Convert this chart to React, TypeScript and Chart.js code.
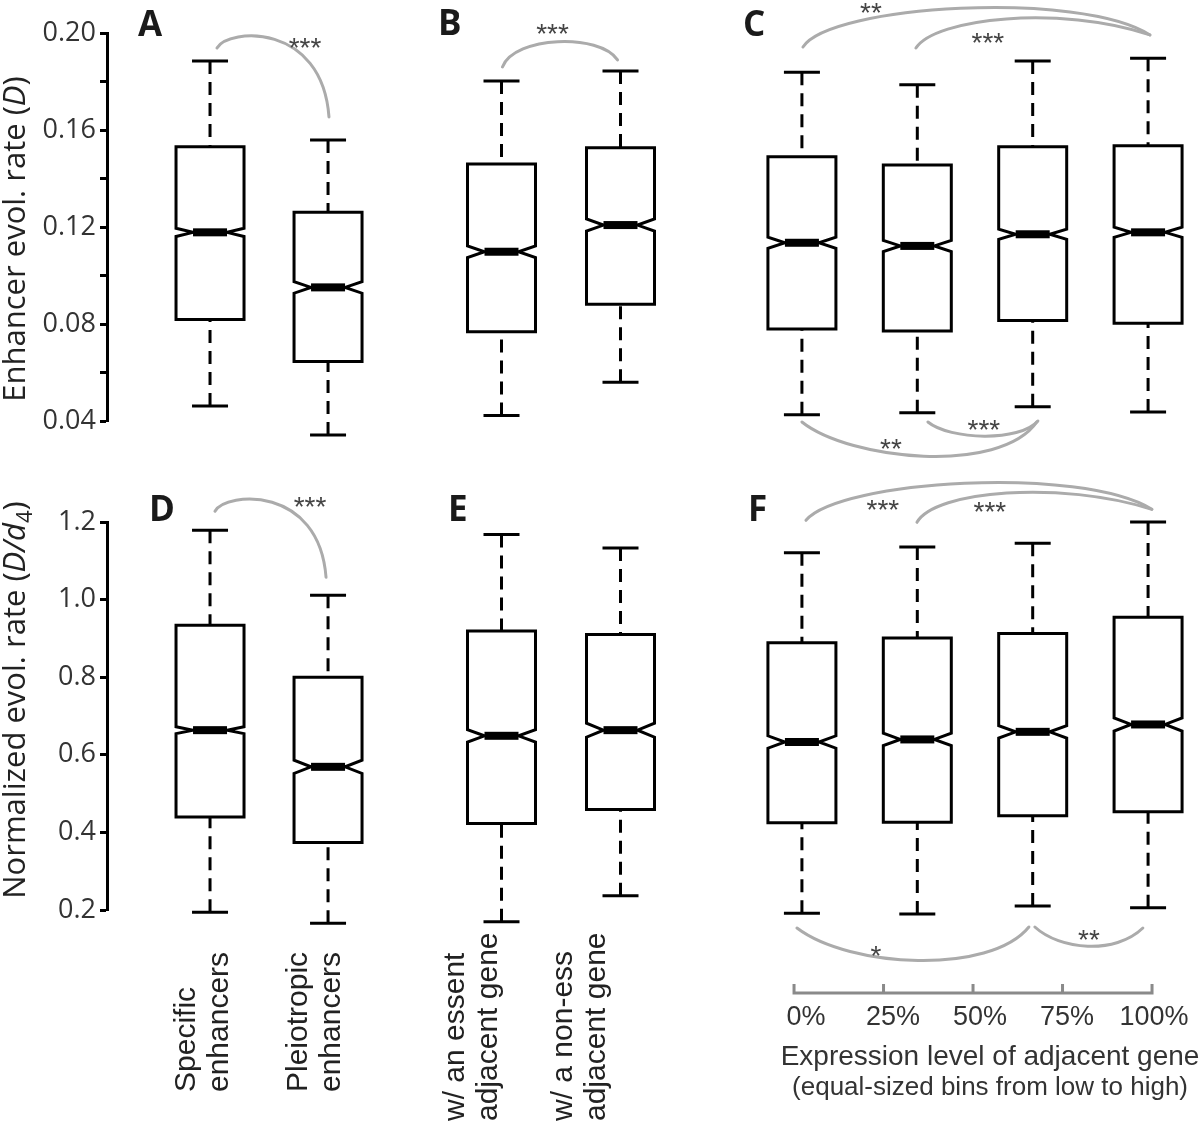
import React, { useEffect, useRef } from 'react';
import { Chart, registerables } from 'chart.js';

Chart.register(...registerables);

// ---------------- data ----------------
const TOP_TICK_VALUES = [0.04, 0.06, 0.08, 0.1, 0.12, 0.14, 0.16, 0.18, 0.2];
const TOP_TICK_LABELS = ['0.04', '', '0.08', '', '0.12', '', '0.16', '', '0.20'];
const BOTTOM_TICK_VALUES = [0.2, 0.4, 0.6, 0.8, 1.0, 1.2];
const BOTTOM_TICK_LABELS = ['0.2', '0.4', '0.6', '0.8', '1.0', '1.2'];

const ENHANCER_GROUPS = [['Specific', 'enhancers'], ['Pleiotropic', 'enhancers']];
const ESSENTIAL_GROUPS = [['w/ an essent', 'adjacent gene'], ['w/ a non-ess', 'adjacent gene']];
const EXPRESSION_BIN_VALUES = [0, 25, 50, 75, 100];
const EXPRESSION_BIN_LABELS = ['0%', '25%', '50%', '75%', '100%'];
const EXPRESSION_TITLE = 'Expression level of adjacent gene';
const EXPRESSION_SUBTITLE = '(equal-sized bins from low to high)';

// Panel A: enhancer evol. rate, specific vs pleiotropic
const A_LOW = [0.0462, 0.0342];
const A_Q1 = [0.0819, 0.0645];
const A_MEDIAN = [0.1178, 0.0951];
const A_Q3 = [0.1531, 0.1261];
const A_HIGH = [0.1885, 0.1559];
const A_NOTCH = [0.0017, 0.0024];

// Panel B: essential vs non-essential adjacent gene
const B_LOW = [0.0423, 0.056];
const B_Q1 = [0.0768, 0.0881];
const B_MEDIAN = [0.1098, 0.1208];
const B_Q3 = [0.146, 0.1527];
const B_HIGH = [0.1802, 0.1843];
const B_NOTCH = [0.0024, 0.0025];

// Panel C: expression bins
const C_LOW = [0.0426, 0.0434, 0.0459, 0.0437];
const C_Q1 = [0.0779, 0.0771, 0.0814, 0.0803];
const C_MEDIAN = [0.1135, 0.1122, 0.117, 0.1178];
const C_Q3 = [0.149, 0.1456, 0.1531, 0.1535];
const C_HIGH = [0.1838, 0.1787, 0.1885, 0.1896];
const C_NOTCH = [0.0023, 0.0023, 0.0021, 0.0021];

// Panel D: normalized rate, specific vs pleiotropic
const D_LOW = [0.194, 0.166];
const D_Q1 = [0.44, 0.374];
const D_MEDIAN = [0.6635, 0.569];
const D_Q3 = [0.934, 0.8];
const D_HIGH = [1.179, 1.011];
const D_NOTCH = [0.009, 0.017];

// Panel E: normalized rate, essential vs non-essential
const E_LOW = [0.17, 0.237];
const E_Q1 = [0.423, 0.459];
const E_MEDIAN = [0.649, 0.6635];
const E_Q3 = [0.919, 0.91];
const E_HIGH = [1.168, 1.133];
const E_NOTCH = [0.016, 0.018];

// Panel F: normalized rate, expression bins
const F_LOW = [0.1915, 0.19, 0.2103, 0.206];
const F_Q1 = [0.425, 0.426, 0.4429, 0.4532];
const F_MEDIAN = [0.633, 0.6396, 0.6592, 0.6782];
const F_Q3 = [0.889, 0.901, 0.9126, 0.9546];
const F_HIGH = [1.121, 1.1356, 1.145, 1.2];
const F_NOTCH = [0.016, 0.016, 0.016, 0.017];

// significance brackets: bezier control points in (box index, value) units
const A_ARCS = [
  { pts: [[0.059, 0.1938], [0.153, 0.2021], [0.949, 0.2045], [1.008, 0.1654]], label: '***', at: [0.805, 0.1967] },
];
const B_ARCS = [
  { pts: [[0.008, 0.186], [0.109, 0.1988], [0.824, 0.2], [0.975, 0.1889]], label: '***', at: [0.429, 0.2025] },
];
const C_ARCS = [
  { pts: [[0.009, 0.1942], [0.243, 0.2116], [2.409, 0.2177], [3.016, 0.1992]], label: '**', at: [0.598, 0.2111] },
  { pts: [[0.988, 0.1938], [1.153, 0.2062], [2.236, 0.2116], [3.016, 0.1992]], label: '***', at: [1.612, 0.1988] },
  { pts: [[0, 0.0396], [0.416, 0.0239], [1.716, 0.0177], [2.036, 0.0396]], label: '**', at: [0.771, 0.0313] },
  { pts: [[1.092, 0.0396], [1.282, 0.0322], [1.889, 0.0313], [2.045, 0.04]], label: '***', at: [1.577, 0.0392] },
];
const D_ARCS = [
  { pts: [[0.042, 1.2276], [0.136, 1.2791], [0.924, 1.2945], [0.983, 1.0576]], label: '***', at: [0.847, 1.2559] },
];
const E_ARCS: any[] = [];
const F_ARCS = [
  { pts: [[0.035, 1.2044], [0.329, 1.3074], [2.409, 1.346], [3.033, 1.2327]], label: '***', at: [0.702, 1.2482] },
  { pts: [[0.997, 1.1992], [1.153, 1.2816], [2.236, 1.3074], [3.033, 1.2327]], label: '***', at: [1.629, 1.243] },
  { pts: [[-0.043, 0.1536], [0.416, 0.0506], [1.629, 0.0326], [1.967, 0.1562]], label: '*', at: [0.641, 0.1004] },
  { pts: [[2.019, 0.1562], [2.236, 0.097], [2.712, 0.0841], [2.955, 0.1536]], label: '**', at: [2.487, 0.1408] },
];

// ---------------- layout / style ----------------
const SANS = '"Liberation Sans", Arial, sans-serif';
const AXIS_FONT = '"Open Sans", sans-serif';
const ARC_COLOR = '#ababab';
const BOX_HALF = 34;
const NOTCH_INNER = 17;
const CAP_HALF = 18;

const ROWS = [
  { top: 0, height: 470, padT: 33, padB: 49, min: 0.04, max: 0.2, tickValues: TOP_TICK_VALUES, tickLabels: TOP_TICK_LABELS },
  { top: 470, height: 652, padT: 52, padB: 212, min: 0.2, max: 1.2, tickValues: BOTTOM_TICK_VALUES, tickLabels: BOTTOM_TICK_LABELS },
];
const COLS = [
  { left: 0, width: 400, padL: 0, padR: 10, xMin: -0.873, xMax: 1.525 },
  { left: 400, width: 300, padL: 42, padR: 20, xMin: -0.5, xMax: 1.5 },
  { left: 700, width: 500, padL: 50, padR: 0, xMin: -0.45, xMax: 3.45 },
];

const TOP_Y_TITLE = [
  { t: 'Enhancer evol. rate (', f: `31px ${AXIS_FONT}` },
  { t: 'D', f: `italic 31px ${AXIS_FONT}` },
  { t: ')', f: `31px ${AXIS_FONT}` },
];
const BOTTOM_Y_TITLE = [
  { t: 'Normalized evol. rate (', f: `31px ${AXIS_FONT}` },
  { t: 'D/d', f: `italic 31px ${AXIS_FONT}` },
  { t: '4', f: `22px ${AXIS_FONT}`, dy: 7 },
  { t: ')', f: `31px ${AXIS_FONT}` },
];

const stats = (low, q1, med, q3, high, notch) => ({ low, q1, med, q3, high, notch });

const PANELS = [
  { id: 'A', row: 0, col: 0, s: stats(A_LOW, A_Q1, A_MEDIAN, A_Q3, A_HIGH, A_NOTCH), arcs: A_ARCS, showY: true,
    title: TOP_Y_TITLE, titlePos: [25, 239], letter: ['A', 138, 36] },
  { id: 'B', row: 0, col: 1, s: stats(B_LOW, B_Q1, B_MEDIAN, B_Q3, B_HIGH, B_NOTCH), arcs: B_ARCS, showY: false,
    letter: ['B', 438, 35] },
  { id: 'C', row: 0, col: 2, s: stats(C_LOW, C_Q1, C_MEDIAN, C_Q3, C_HIGH, C_NOTCH), arcs: C_ARCS, showY: false,
    letter: ['C', 743, 36] },
  { id: 'D', row: 1, col: 0, s: stats(D_LOW, D_Q1, D_MEDIAN, D_Q3, D_HIGH, D_NOTCH), arcs: D_ARCS, showY: true,
    title: BOTTOM_Y_TITLE, titlePos: [25, 700], letter: ['D', 149, 521],
    cats: ENHANCER_GROUPS, catDx: [18, 12], catBottom: 1092 },
  { id: 'E', row: 1, col: 1, s: stats(E_LOW, E_Q1, E_MEDIAN, E_Q3, E_HIGH, E_NOTCH), arcs: E_ARCS, showY: false,
    letter: ['E', 448, 521], cats: ESSENTIAL_GROUPS, catDx: [-5, -16], catBottom: 1121 },
  { id: 'F', row: 1, col: 2, s: stats(F_LOW, F_Q1, F_MEDIAN, F_Q3, F_HIGH, F_NOTCH), arcs: F_ARCS, showY: false,
    letter: ['F', 748, 521], pct: true },
];

function drawParts(ctx, parts, cx, cy) {
  let total = 0;
  for (const p of parts) { ctx.font = p.f; total += ctx.measureText(p.t).width; }
  ctx.save();
  ctx.translate(cx, cy);
  ctx.rotate(-Math.PI / 2);
  ctx.textAlign = 'left';
  ctx.textBaseline = 'alphabetic';
  let x = -total / 2;
  for (const p of parts) {
    ctx.font = p.f;
    ctx.fillText(p.t, x, p.dy || 0);
    x += ctx.measureText(p.t).width;
  }
  ctx.restore();
}

function makePlugin(p) {
  const row = ROWS[p.row];
  const col = COLS[p.col];
  return {
    id: 'panel' + p.id,
    afterDatasetsDraw(chart) {
      const { ctx } = chart;
      const x = chart.scales.x;
      const y = chart.scales.y;
      ctx.save();
      // significance arcs
      for (const arc of p.arcs) {
        const P = arc.pts.map(([a, b]) => [x.getPixelForValue(a), y.getPixelForValue(b)]);
        ctx.strokeStyle = ARC_COLOR;
        ctx.lineWidth = 3;
        ctx.lineCap = 'round';
        ctx.beginPath();
        ctx.moveTo(P[0][0], P[0][1]);
        ctx.bezierCurveTo(P[1][0], P[1][1], P[2][0], P[2][1], P[3][0], P[3][1]);
        ctx.stroke();
        ctx.fillStyle = '#444';
        ctx.font = `28px ${SANS}`;
        ctx.textAlign = 'center';
        ctx.textBaseline = 'alphabetic';
        ctx.fillText(arc.label, x.getPixelForValue(arc.at[0]), y.getPixelForValue(arc.at[1]) + 16);
      }
      // notched boxes
      const s = p.s;
      ctx.lineCap = 'butt';
      ctx.lineJoin = 'miter';
      ctx.strokeStyle = '#000';
      ctx.lineWidth = 3;
      s.med.forEach((m, i) => {
        const px = x.getPixelForValue(i);
        const yLow = y.getPixelForValue(s.low[i]);
        const yQ1 = y.getPixelForValue(s.q1[i]);
        const yMed = y.getPixelForValue(m);
        const yQ3 = y.getPixelForValue(s.q3[i]);
        const yHigh = y.getPixelForValue(s.high[i]);
        const yNHi = y.getPixelForValue(m + s.notch[i]);
        const yNLo = y.getPixelForValue(m - s.notch[i]);
        ctx.setLineDash([13, 8]);
        ctx.beginPath();
        ctx.moveTo(px, yHigh); ctx.lineTo(px, yQ3);
        ctx.moveTo(px, yLow); ctx.lineTo(px, yQ1);
        ctx.stroke();
        ctx.setLineDash([]);
        ctx.beginPath();
        ctx.moveTo(px - CAP_HALF, yHigh); ctx.lineTo(px + CAP_HALF, yHigh);
        ctx.moveTo(px - CAP_HALF, yLow); ctx.lineTo(px + CAP_HALF, yLow);
        ctx.stroke();
        ctx.beginPath();
        ctx.moveTo(px - BOX_HALF, yQ3);
        ctx.lineTo(px - BOX_HALF, yNHi);
        ctx.lineTo(px - NOTCH_INNER, yMed);
        ctx.lineTo(px - BOX_HALF, yNLo);
        ctx.lineTo(px - BOX_HALF, yQ1);
        ctx.lineTo(px + BOX_HALF, yQ1);
        ctx.lineTo(px + BOX_HALF, yNLo);
        ctx.lineTo(px + NOTCH_INNER, yMed);
        ctx.lineTo(px + BOX_HALF, yNHi);
        ctx.lineTo(px + BOX_HALF, yQ3);
        ctx.closePath();
        ctx.fillStyle = '#fff';
        ctx.fill();
        ctx.stroke();
        ctx.fillStyle = '#000';
        ctx.fillRect(px - NOTCH_INNER, yMed - 4, NOTCH_INNER * 2, 8);
      });
      ctx.restore();
    },
    afterDraw(chart) {
      const { ctx, chartArea } = chart;
      const x = chart.scales.x;
      ctx.save();
      // panel letter
      const [L, lx, ly] = p.letter;
      ctx.fillStyle = '#1a1a1a';
      ctx.font = `bold 35px ${AXIS_FONT}`;
      ctx.textAlign = 'left';
      ctx.textBaseline = 'alphabetic';
      ctx.fillText(L, lx - col.left, ly - row.top);
      // y-axis title
      if (p.title) {
        ctx.fillStyle = '#222';
        drawParts(ctx, p.title, p.titlePos[0] - col.left, p.titlePos[1] - row.top);
      }
      // category labels (rotated, reading upward)
      if (p.cats) {
        ctx.fillStyle = '#222';
        ctx.font = `30px ${SANS}`;
        ctx.textAlign = 'left';
        ctx.textBaseline = 'alphabetic';
        p.cats.forEach((lines, i) => {
          const base = x.getPixelForValue(i) + p.catDx[i];
          lines.forEach((line, k) => {
            const bx = base - (lines.length - 1 - k) * 33;
            ctx.save();
            ctx.translate(bx, p.catBottom - row.top);
            ctx.rotate(-Math.PI / 2);
            ctx.fillText(line, 0, 0);
            ctx.restore();
          });
        });
      }
      // expression percentile bracket
      if (p.pct) {
        const pct = chart.scales.pct;
        const yb = chartArea.bottom + 83;
        ctx.strokeStyle = '#8a8a8a';
        ctx.lineWidth = 3;
        ctx.lineCap = 'butt';
        ctx.beginPath();
        ctx.moveTo(pct.getPixelForValue(EXPRESSION_BIN_VALUES[0]) - 1.5, yb);
        ctx.lineTo(pct.getPixelForValue(EXPRESSION_BIN_VALUES[EXPRESSION_BIN_VALUES.length - 1]) + 1.5, yb);
        EXPRESSION_BIN_VALUES.forEach((v) => {
          const px = pct.getPixelForValue(v);
          ctx.moveTo(px, yb);
          ctx.lineTo(px, yb - 9);
        });
        ctx.stroke();
        ctx.fillStyle = '#333';
        ctx.font = `27px ${SANS}`;
        ctx.textAlign = 'center';
        EXPRESSION_BIN_LABELS.forEach((lab, i) => {
          ctx.fillText(lab, pct.getPixelForValue(EXPRESSION_BIN_VALUES[i]) + 12 - i * 2.5, yb + 32);
        });
        const mid = (pct.getPixelForValue(0) + pct.getPixelForValue(100)) / 2 + 17;
        ctx.font = `28px ${SANS}`;
        ctx.fillText(EXPRESSION_TITLE, mid, yb + 72);
        ctx.font = `26px ${SANS}`;
        ctx.fillText(EXPRESSION_SUBTITLE, mid, yb + 102);
      }
      ctx.restore();
    },
  };
}

function buildConfig(p) {
  const row = ROWS[p.row];
  const col = COLS[p.col];
  const yScale: any = {
    type: 'linear',
    min: row.min,
    max: row.max,
    display: p.showY,
    afterBuildTicks: (sc) => { sc.ticks = row.tickValues.map((v) => ({ value: v })); },
    ticks: {
      autoSkip: false,
      callback: (_v, i) => row.tickLabels[i],
      color: '#333',
      font: { family: 'Open Sans', size: 27 },
      padding: 4,
    },
    grid: { drawOnChartArea: false, drawTicks: true, tickLength: 7, tickWidth: 3, tickColor: '#000' },
    border: { display: true, color: '#000', width: 3 },
  };
  if (p.showY) {
    yScale.afterFit = (sc) => { sc.width = 107; };
  }
  const scales: any = {
    x: { type: 'linear', min: col.xMin, max: col.xMax, display: false },
    y: yScale,
  };
  if (p.pct) {
    scales.pct = { type: 'linear', axis: 'x', position: 'bottom', min: -12.3, max: 113.4, display: false };
  }
  return {
    type: 'scatter',
    data: {
      datasets: [{
        data: p.s.med.map((m, i) => ({ x: i, y: m })),
        pointRadius: 0,
        showLine: false,
        clip: false,
      }],
    },
    options: {
      animation: false,
      responsive: false,
      devicePixelRatio: 1,
      events: [],
      layout: { padding: { top: row.padT, bottom: row.padB, left: col.padL, right: col.padR } },
      plugins: { legend: { display: false }, tooltip: { enabled: false }, title: { display: false } },
      scales,
    },
    plugins: [makePlugin(p)],
  };
}

function Panel({ p }) {
  const ref = useRef<HTMLCanvasElement | null>(null);
  const row = ROWS[p.row];
  const col = COLS[p.col];
  useEffect(() => {
    const chart = new Chart(ref.current as HTMLCanvasElement, buildConfig(p) as any);
    return () => chart.destroy();
  }, [p]);
  return (
    <canvas
      ref={ref}
      width={col.width}
      height={row.height}
      style={{ position: 'absolute', left: col.left, top: row.top, width: col.width, height: row.height }}
    />
  );
}

export default function App() {
  return (
    <div style={{ position: 'absolute', left: 0, top: 0, width: 1200, height: 1122, overflow: 'hidden', background: '#fff' }}>
      {PANELS.map((p) => <Panel key={p.id} p={p} />)}
    </div>
  );
}
